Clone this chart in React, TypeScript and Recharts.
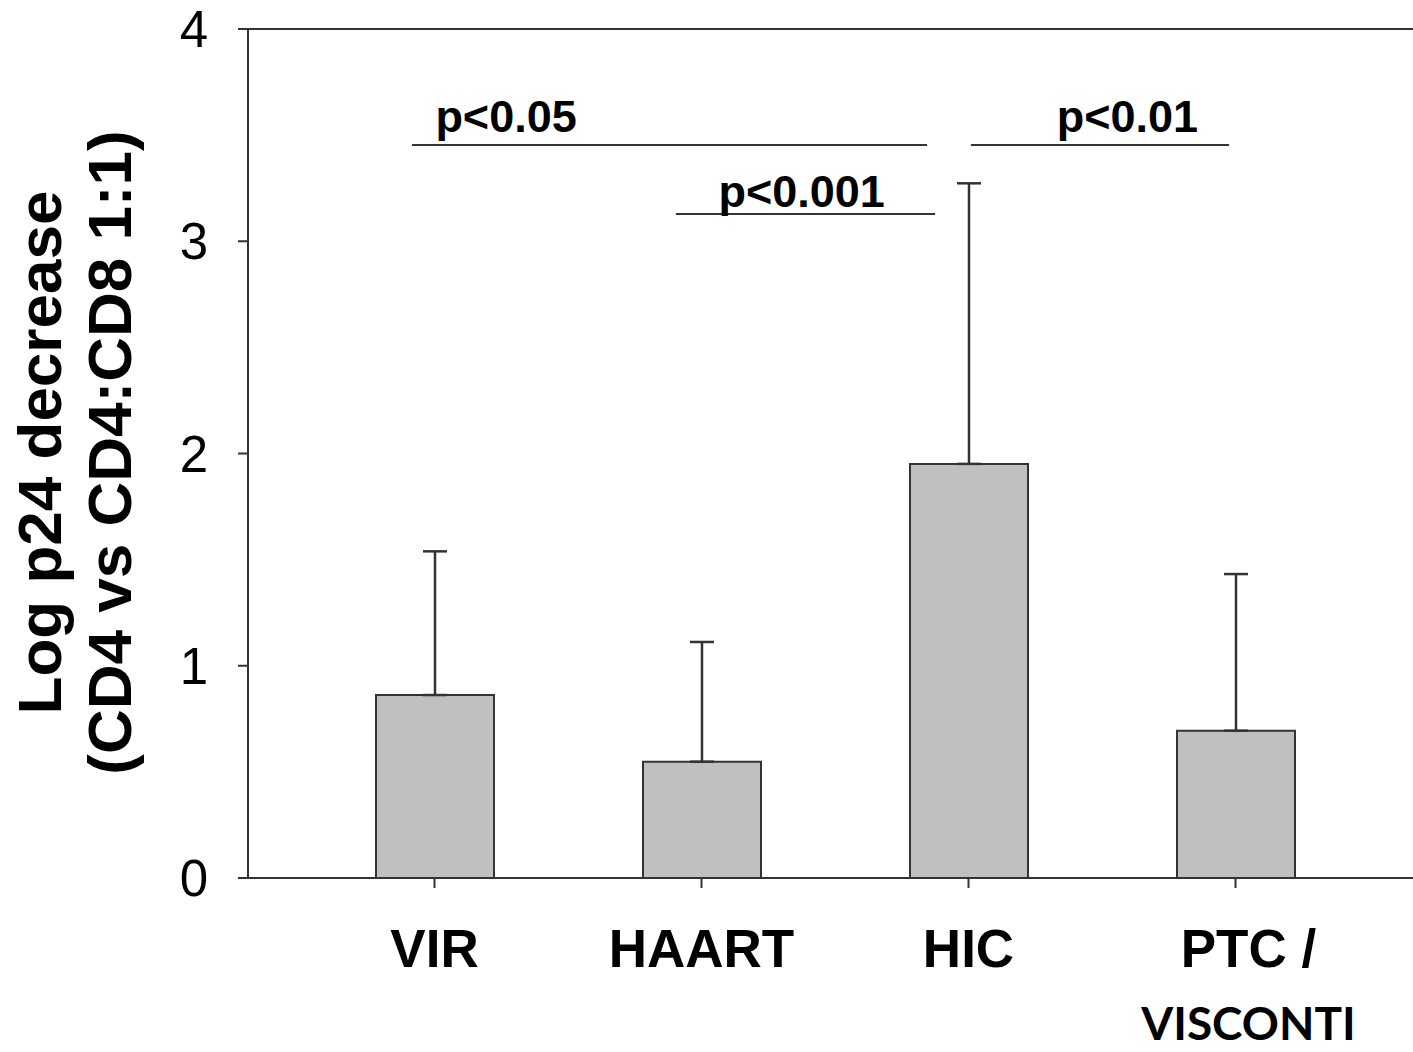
import React from 'react';
import {
  BarChart,
  Bar,
  XAxis,
  YAxis,
  ErrorBar,
  ReferenceLine,
  ReferenceDot,
  Label,
} from 'recharts';

// Groups and their mean log p24 decrease with the upper SD
const categories = ['VIR', 'HAART', 'HIC', 'PTC / VISCONTI'];
const means = [0.862, 0.548, 1.951, 0.694];
const upperErrors = [0.677, 0.564, 1.322, 0.738];
const yTicks = [0, 1, 2, 3, 4];
// Group centres on a 0..4 position scale (one unit per group)
const positions = [0.5, 1.5, 2.5, 3.5];

// Significance brackets on the same position scale
const brackets = [
  { label: 'p<0.05', x1: 0.416, x2: 2.345, y: 3.453, labelX: 0.768, labelY: 3.59 },
  { label: 'p<0.001', x1: 1.404, x2: 2.375, y: 3.128, labelX: 1.875, labelY: 3.237 },
  { label: 'p<0.01', x1: 2.509, x2: 3.476, y: 3.453, labelX: 3.095, labelY: 3.588 },
];

const data = categories.map((name, i) => ({
  name,
  pos: positions[i],
  value: means[i],
  err: [0, upperErrors[i]],
}));

const ARIAL = '"Liberation Sans", Arial, Helvetica, sans-serif';
const CALIBRI = 'Lato, "Noto Sans", sans-serif';
const INK = '#333333';

const CategoryTick = (props: any) => {
  const { x, y, payload } = props;
  const value: string = payload.value;
  if (value.includes(' / ')) {
    const [first, second] = value.split(' / ');
    return (
      <g>
        <text
          x={x + 13}
          y={y + 79}
          textAnchor="middle"
          fontFamily={ARIAL}
          fontWeight="bold"
          fontSize={53}
          fill="#000"
        >
          {first + ' /'}
        </text>
        <text
          x={x + 13}
          y={y + 152}
          textAnchor="middle"
          fontFamily={CALIBRI}
          fontWeight="bold"
          fontSize={46}
          fill="#000"
        >
          {second}
        </text>
      </g>
    );
  }
  return (
    <text
      x={x}
      y={y + 79}
      textAnchor="middle"
      fontFamily={ARIAL}
      fontWeight="bold"
      fontSize={53}
      fill="#000"
    >
      {value}
    </text>
  );
};

const YTitle = (props: any) => {
  const vb = props.viewBox || { x: 0, y: 29, width: 248, height: 849 };
  const cy = vb.y + vb.height / 2 - 1;
  return (
    <g transform={`translate(${vb.x + 61}, ${cy}) rotate(-90)`}>
      <text
        x={0}
        y={0}
        textAnchor="middle"
        fontFamily={ARIAL}
        fontWeight="bold"
        fontSize={62}
        fill="#000"
      >
        Log p24 decrease
      </text>
      <text
        x={0}
        y={70}
        textAnchor="middle"
        fontFamily={ARIAL}
        fontWeight="bold"
        fontSize={62}
        fill="#000"
      >
        (CD4 vs CD4:CD8 1:1)
      </text>
    </g>
  );
};

export default function App() {
  return (
    <div style={{ position: 'absolute', left: 0, top: 0, background: '#fff' }}>
      <BarChart
        width={1413}
        height={1052}
        data={data}
        margin={{ top: 29, right: 0, bottom: 0, left: 0 }}
      >
        <XAxis
          xAxisId="cat"
          dataKey="name"
          type="category"
          padding={{ left: 53, right: 44 }}
          height={174}
          tickSize={10}
          tickMargin={0}
          axisLine={{ stroke: INK, strokeWidth: 2 }}
          tickLine={{ stroke: INK, strokeWidth: 2 }}
          tick={<CategoryTick />}
          interval={0}
        />
        <XAxis
          xAxisId="pos"
          dataKey="pos"
          type="number"
          domain={[0, 4]}
          allowDataOverflow
          padding={{ left: 53, right: 44 }}
          hide
        />
        <YAxis
          domain={[0, 4]}
          ticks={yTicks}
          width={248}
          tickSize={10}
          tickMargin={30}
          axisLine={{ stroke: INK, strokeWidth: 2 }}
          tickLine={{ stroke: INK, strokeWidth: 2 }}
          tick={{ fontFamily: ARIAL, fontSize: 51, fill: '#000' }}
          interval={0}
        >
          <Label content={<YTitle />} />
        </YAxis>
        <ReferenceLine xAxisId="cat" y={4} stroke={INK} strokeWidth={2} />
        <Bar
          xAxisId="cat"
          dataKey="value"
          barSize={118}
          fill="#c0c0c0"
          stroke={INK}
          strokeWidth={2}
          isAnimationActive={false}
        >
          <ErrorBar
            dataKey="err"
            width={12}
            stroke={INK}
            strokeWidth={2.5}
            direction="y"
          />
        </Bar>
        {brackets.map((b) => (
          <ReferenceLine
            key={b.label + '-line'}
            xAxisId="pos"
            segment={[
              { x: b.x1, y: b.y },
              { x: b.x2, y: b.y },
            ]}
            stroke={INK}
            strokeWidth={2}
          />
        ))}
        {brackets.map((b) => (
          <ReferenceDot
            key={b.label + '-text'}
            xAxisId="pos"
            x={b.labelX}
            y={b.labelY}
            r={0}
            fill="none"
            stroke="none"
          >
            <Label
              value={b.label}
              position="center"
              fontFamily={ARIAL}
              fontWeight="bold"
              fontSize={45}
              fill="#000"
            />
          </ReferenceDot>
        ))}
      </BarChart>
    </div>
  );
}
